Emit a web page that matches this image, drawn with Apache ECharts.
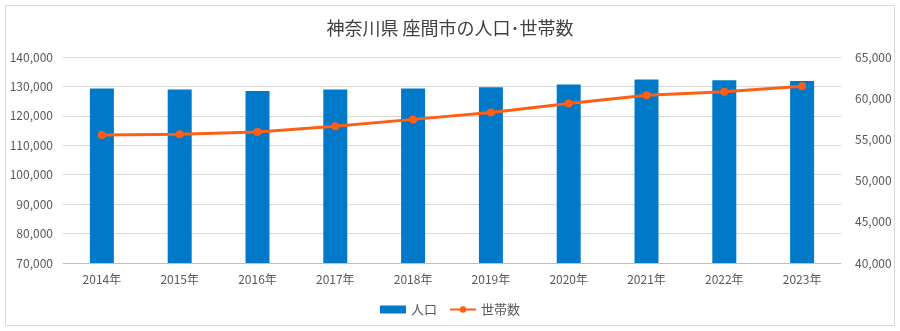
<!DOCTYPE html>
<html><head><meta charset="utf-8">
<script src="https://cdn.jsdelivr.net/npm/echarts@6/dist/echarts.min.js"></script>
<style>html,body{margin:0;padding:0;background:#fff}#c{width:900px;height:331px}</style>
</head><body><div id="c"></div>
<script>
const categories = ['2014年','2015年','2016年','2017年','2018年','2019年','2020年','2021年','2022年','2023年'];
const population = [129300,128950,128480,128950,129300,129730,130650,132340,132100,131870];
const households = [55530,55610,55890,56610,57430,58270,59360,60370,60770,61460];
const leftTicks = {min:70000,max:140000,interval:10000};
const rightTicks = {min:40000,max:65000,interval:5000};

const font = '"Noto Sans CJK JP", "Noto Sans", sans-serif';
const chart = echarts.init(document.getElementById('c'));
const fmt = v => v.toLocaleString('en-US');
chart.setOption({
  animation:false,
  textStyle:{fontFamily:font},
  title:{text:'神奈川県 座間市の人口･世帯数',left:'center',top:14,textStyle:{fontSize:18,fontWeight:'normal',color:'#404040',fontFamily:font}},
  graphic:[{type:'rect',shape:{x:5.5,y:5.5,width:889,height:320},style:{fill:'none',stroke:'#d9d9d9',lineWidth:1},silent:true}],
  legend:{bottom:10,left:'center',itemGap:12,itemWidth:26,itemHeight:8,
    textStyle:{fontSize:13,color:'#595959',fontFamily:font},
    data:[{name:'人口',icon:'rect'},{name:'世帯数'}]},
  grid:{left:63,right:59,top:57,bottom:68},
  xAxis:{type:'category',data:categories,
    axisLine:{lineStyle:{color:'#bfbfbf'}},axisTick:{show:false},
    axisLabel:{color:'#595959',fontSize:12,margin:10,fontFamily:font}},
  yAxis:[
    {type:'value',min:leftTicks.min,max:leftTicks.max,interval:leftTicks.interval,
     axisLabel:{color:'#595959',fontSize:12,formatter:fmt,margin:10,fontFamily:font},
     splitLine:{lineStyle:{color:'#d9d9d9'}},axisLine:{show:false},axisTick:{show:false}},
    {type:'value',min:rightTicks.min,max:rightTicks.max,interval:rightTicks.interval,
     axisLabel:{color:'#595959',fontSize:12,formatter:fmt,margin:14,fontFamily:font},
     splitLine:{show:false},axisLine:{show:false},axisTick:{show:false}}
  ],
  series:[
    {name:'人口',type:'bar',data:population,barWidth:24,itemStyle:{color:'#0079c8'}},
    {name:'世帯数',type:'line',yAxisIndex:1,data:households,symbol:'circle',symbolSize:8,
     lineStyle:{color:'#ff5f15',width:3},itemStyle:{color:'#ff5f15'}}
  ]
});
</script></body></html>
